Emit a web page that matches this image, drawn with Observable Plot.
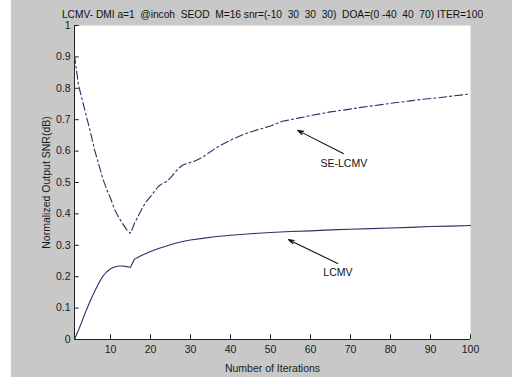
<!DOCTYPE html>
<html>
<head>
<meta charset="utf-8">
<script src="https://cdn.jsdelivr.net/npm/d3@7"></script>
<script src="https://cdn.jsdelivr.net/npm/@observablehq/plot@0.6"></script>
<style>
  html, body { margin: 0; padding: 0; background: #ffffff; }
  #wrap { position: relative; width: 512px; height: 380px; overflow: hidden; }
  #wrap svg { display: block; background: #c8c8c8; }
  .strip { position: absolute; background: #ffffff; }
</style>
</head>
<body>
<div id="wrap"></div>
<script>
const titleText = "LCMV- DMI a=1  @incoh  SEOD  M=16 snr=(-10  30  30  30)  DOA=(0 -40  40  70) ITER=100";
const xLabel = "Number of Iterations";
const yLabel = "Normalized Output SNR(dB)";
const xTicks = [10, 20, 30, 40, 50, 60, 70, 80, 90, 100];
const yTicks = [0, 0.1, 0.2, 0.3, 0.4, 0.5, 0.6, 0.7, 0.8, 0.9, 1];
const yTickLabels = ["0", "0.1", "0.2", "0.3", "0.4", "0.5", "0.6", "0.7", "0.8", "0.9", "1"];

// LCMV (solid)
const iterLCMV = [1,2,3,4,5,6,7,8,9,10,11,12,13,14,15,16,17,18,19,20,22,24,26,28,30,33,36,40,45,50,55,60,65,70,75,80,85,90,95,100];
const snrLCMV  = [0,0.03,0.062,0.095,0.125,0.152,0.178,0.2,0.215,0.225,0.231,0.234,0.234,0.232,0.23,0.256,0.263,0.269,0.275,0.28,0.29,0.298,0.306,0.312,0.317,0.322,0.327,0.332,0.337,0.341,0.344,0.346,0.349,0.351,0.353,0.355,0.357,0.36,0.361,0.363];

// SE-LCMV (dash-dot)
const iterSE = [1,2,3,4,5,6,7,8,9,10,11,12,13,14,15,16,17,18,19,20,21,22,23,24,25,26,27,28,29,31,33,35,37,40,43,46,50,53,57,60,65,68,72,76,80,85,88,92,96,100];
const snrSE  = [0.905,0.81,0.76,0.71,0.66,0.605,0.56,0.515,0.48,0.45,0.415,0.39,0.37,0.35,0.338,0.37,0.395,0.42,0.44,0.455,0.472,0.488,0.497,0.503,0.515,0.53,0.545,0.555,0.56,0.568,0.58,0.598,0.615,0.635,0.652,0.665,0.68,0.695,0.705,0.713,0.725,0.73,0.738,0.745,0.752,0.76,0.765,0.77,0.776,0.782];

// annotations
const annLabels = ["SE-LCMV", "LCMV"];
const annTextX = [62.5, 63.2];
const annTextY = [0.56, 0.213];
const arrowFromX = [68.2, 66.8];
const arrowFromY = [0.592, 0.242];
const arrowToX = [56.8, 54.5];
const arrowToY = [0.666, 0.318];

const lcmv = iterLCMV.map((x, i) => ({x, y: snrLCMV[i]}));
const se = iterSE.map((x, i) => ({x, y: snrSE[i]}));
const ann = annLabels.map((t, i) => ({t, tx: annTextX[i], ty: annTextY[i], x1: arrowFromX[i], y1: arrowFromY[i], x2: arrowToX[i], y2: arrowToY[i]}));

const lineColor = "#2e2e6a";
const font = "Liberation Sans, Arial, sans-serif";

const chart = Plot.plot({
  width: 512,
  height: 380,
  marginLeft: 74,
  marginRight: 42,
  marginTop: 25,
  marginBottom: 41,
  style: {fontFamily: font, fontSize: "10.5px", color: "#1a1a1a", background: "#c8c8c8"},
  x: {domain: [1, 100]},
  y: {domain: [0, 1]},
  marks: [
    Plot.frame({fill: "white", stroke: "none"}),
    Plot.axisX({ticks: xTicks, tickSize: 0, tickPadding: 6, label: xLabel, labelAnchor: "center", labelArrow: "none", labelOffset: 32}),
    Plot.axisY({ticks: yTicks, tickFormat: (d) => yTickLabels[yTicks.indexOf(d)], tickSize: 0, tickPadding: 4, label: yLabel, labelAnchor: "center", labelArrow: "none", labelOffset: 32}),
    Plot.ruleY(yTicks, {x1: 1, x2: 2.2, stroke: "#222", strokeWidth: 1}),
    Plot.ruleX(xTicks, {y1: 0, y2: 0.015, stroke: "#222", strokeWidth: 1}),
    Plot.ruleY([0], {stroke: "#222", strokeWidth: 1}),
    Plot.ruleX([1], {stroke: "#222", strokeWidth: 1}),
    Plot.line(se, {x: "x", y: "y", stroke: lineColor, strokeWidth: 1.1, strokeDasharray: "8,3,2,3"}),
    Plot.line(lcmv, {x: "x", y: "y", stroke: lineColor, strokeWidth: 1.1}),
    Plot.arrow(ann, {x1: "x1", y1: "y1", x2: "x2", y2: "y2", stroke: "#111", strokeWidth: 1.1, headLength: 8, headAngle: 35}),
    Plot.text(ann, {x: "tx", y: "ty", text: "t", textAnchor: "start", fill: "#111", fontSize: 10.5}),
    Plot.text([titleText], {frameAnchor: "top", dy: -15, text: d => d, fill: "#111", fontSize: 10.2})
  ]
});
chart.querySelectorAll("text").forEach(t => t.setAttribute("xml:space", "preserve"));
chart.style.whiteSpace = "pre";
document.getElementById("wrap").appendChild(chart);
const s1 = document.createElement("div"); s1.className = "strip";
Object.assign(s1.style, {left: "0px", top: "0px", width: "11px", height: "380px"});
const s2 = document.createElement("div"); s2.className = "strip";
Object.assign(s2.style, {left: "0px", top: "377px", width: "512px", height: "3px"});
document.getElementById("wrap").appendChild(s1);
document.getElementById("wrap").appendChild(s2);
</script>
</body>
</html>
